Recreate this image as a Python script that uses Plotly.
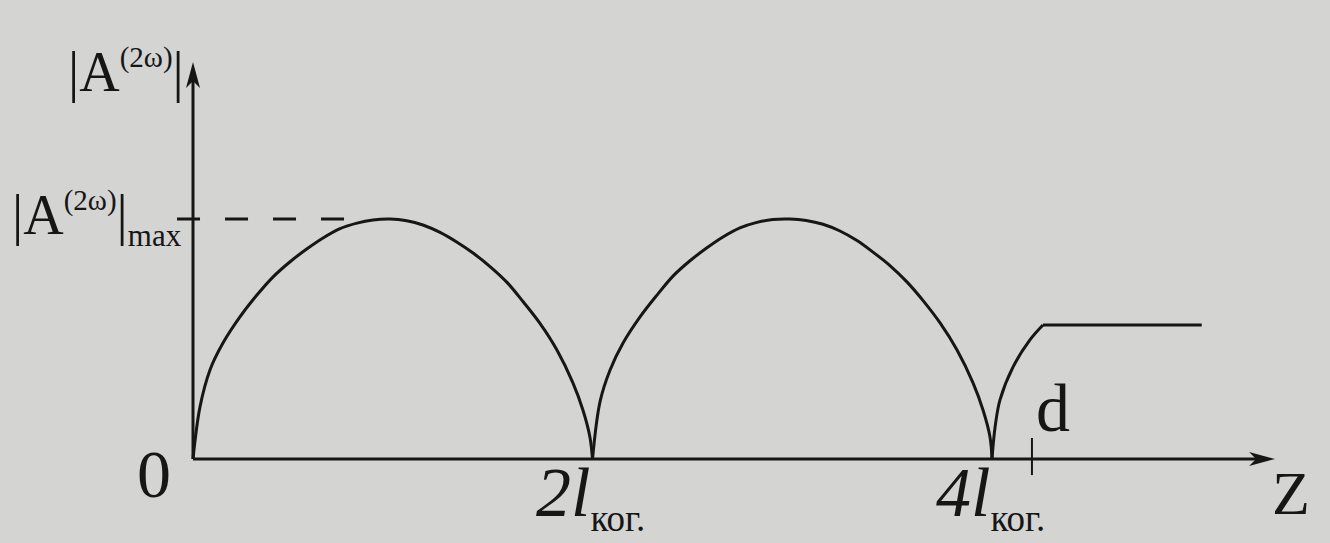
import plotly.graph_objects as go

# ---------------- data ----------------
# z in units of l_kog (coherence length), A normalised to |A|max = 1
arch1_z = [0.0, 0.035, 0.085, 0.150, 0.235, 0.320, 0.400, 0.486, 0.571, 0.651, 0.736, 0.821, 0.901, 0.986,
           1.070, 1.151, 1.237, 1.322, 1.402, 1.487, 1.572, 1.652, 1.737, 1.822, 1.902, 1.952, 1.987, 2.0]
arch1_A = [0.0, 0.217, 0.371, 0.483, 0.592, 0.683, 0.758, 0.822, 0.876, 0.921, 0.960, 0.983, 0.996, 1.0,
           0.993, 0.975, 0.944, 0.903, 0.858, 0.802, 0.736, 0.656, 0.565, 0.454, 0.317, 0.204, 0.092, 0.0]
arch2_z = [2.0, 2.038, 2.088, 2.153, 2.238, 2.323, 2.403, 2.488, 2.573, 2.653, 2.738, 2.823, 2.903, 2.988,
           3.070, 3.154, 3.239, 3.324, 3.404, 3.489, 3.574, 3.655, 3.740, 3.825, 3.905, 3.955, 3.990, 4.0]
arch2_A = [0.0, 0.240, 0.371, 0.483, 0.592, 0.683, 0.762, 0.826, 0.880, 0.925, 0.963, 0.986, 0.998, 1.0,
           0.994, 0.978, 0.950, 0.910, 0.862, 0.806, 0.738, 0.660, 0.567, 0.454, 0.317, 0.204, 0.092, 0.0]
rise_z = [4.0, 4.015, 4.04, 4.105, 4.19, 4.255]
rise_A = [0.0, 0.13, 0.246, 0.383, 0.496, 0.558]
plateau_z = [4.255, 5.05]
plateau_A = [0.558, 0.558]
A_max = 1.0
dash_z = [-0.08, 0.78]
d_z = 4.2
z_axis_end = 5.417
A_axis_end = 1.654

# ---------------- layout constants ----------------
W, H = 1330, 543
X0, PXU = 193, 199.75      # pixel of z=0, pixels per unit
Y0, PYU = 459, 240         # pixel of A=0, pixels per unit
xr = [-X0 / PXU, (W - X0) / PXU]
yr = [(Y0 - H) / PYU, Y0 / PYU]

INK = "#161616"
BG = "#d4d4d2"
FONT = "Liberation Serif"
LW = 3

fig = go.Figure()
for zs, As in [(arch1_z, arch1_A), (arch2_z, arch2_A), (rise_z, rise_A)]:
    fig.add_trace(go.Scatter(x=zs, y=As, mode="lines",
                             line=dict(color=INK, width=LW, shape="spline", smoothing=1.0),
                             hoverinfo="skip", showlegend=False))
fig.add_trace(go.Scatter(x=plateau_z, y=plateau_A, mode="lines",
                         line=dict(color=INK, width=LW), hoverinfo="skip", showlegend=False))
fig.add_trace(go.Scatter(x=dash_z, y=[A_max, A_max], mode="lines",
                         line=dict(color=INK, width=LW, dash="23px,25px"),
                         hoverinfo="skip", showlegend=False))

shapes = [
    dict(type="line", x0=0, y0=0, x1=z_axis_end - 0.05, y1=0, line=dict(color=INK, width=LW)),
    dict(type="line", x0=0, y0=0, x1=0, y1=A_axis_end - 0.05, line=dict(color=INK, width=LW)),
    dict(type="path", xsizemode="pixel", ysizemode="pixel", xanchor=z_axis_end, yanchor=0,
         path="M 0 0 L -26 7 L -19 0 L -26 -7 Z", fillcolor=INK, line=dict(width=0)),
    dict(type="path", xsizemode="pixel", ysizemode="pixel", xanchor=0, yanchor=A_axis_end,
         path="M 0 0 L -7 -26 L 0 -19 L 7 -26 Z", fillcolor=INK, line=dict(width=0)),
    dict(type="line", x0=d_z, x1=d_z, y0=-0.067, y1=0.0875, line=dict(color=INK, width=2)),
]


def px(x):
    return x / W


def py(y):
    return 1 - y / H


ann = []


def txt(text, x, y, size, xa="center", ya="middle"):
    ann.append(dict(text=text, x=px(x), y=py(y), xref="paper", yref="paper",
                    xanchor=xa, yanchor=ya, showarrow=False,
                    font=dict(family=FONT, size=size, color=INK)))


sub = "<sub><span style='font-size:37px'>ког.</span></sub>"
sup = "<sup><span style='font-size:29px'>(2ω)</span></sup>"
txt("0", 154, 474, 68)
txt("Z", 1291, 493, 62)
txt("<i>2l</i>" + sub, 534, 496, 70, xa="left")
txt("<i>4l</i>" + sub, 934, 496, 70, xa="left")
txt("d", 1053, 408, 68)
txt("|A" + sup + "|", 66, 72, 56, xa="left")
txt("|A" + sup + "|<sub><span style='font-size:31px'>max</span></sub>", 10, 218, 56, xa="left")

fig.update_layout(
    width=W, height=H, margin=dict(l=0, r=0, t=0, b=0),
    paper_bgcolor=BG, plot_bgcolor=BG,
    xaxis=dict(range=xr, visible=False, fixedrange=True),
    yaxis=dict(range=yr, visible=False, fixedrange=True),
    shapes=shapes, annotations=ann, showlegend=False,
)
fig.write_html("out.html", config={"displayModeBar": False},
               post_script="document.body.style.margin='0';document.body.style.background='%s';" % BG)
